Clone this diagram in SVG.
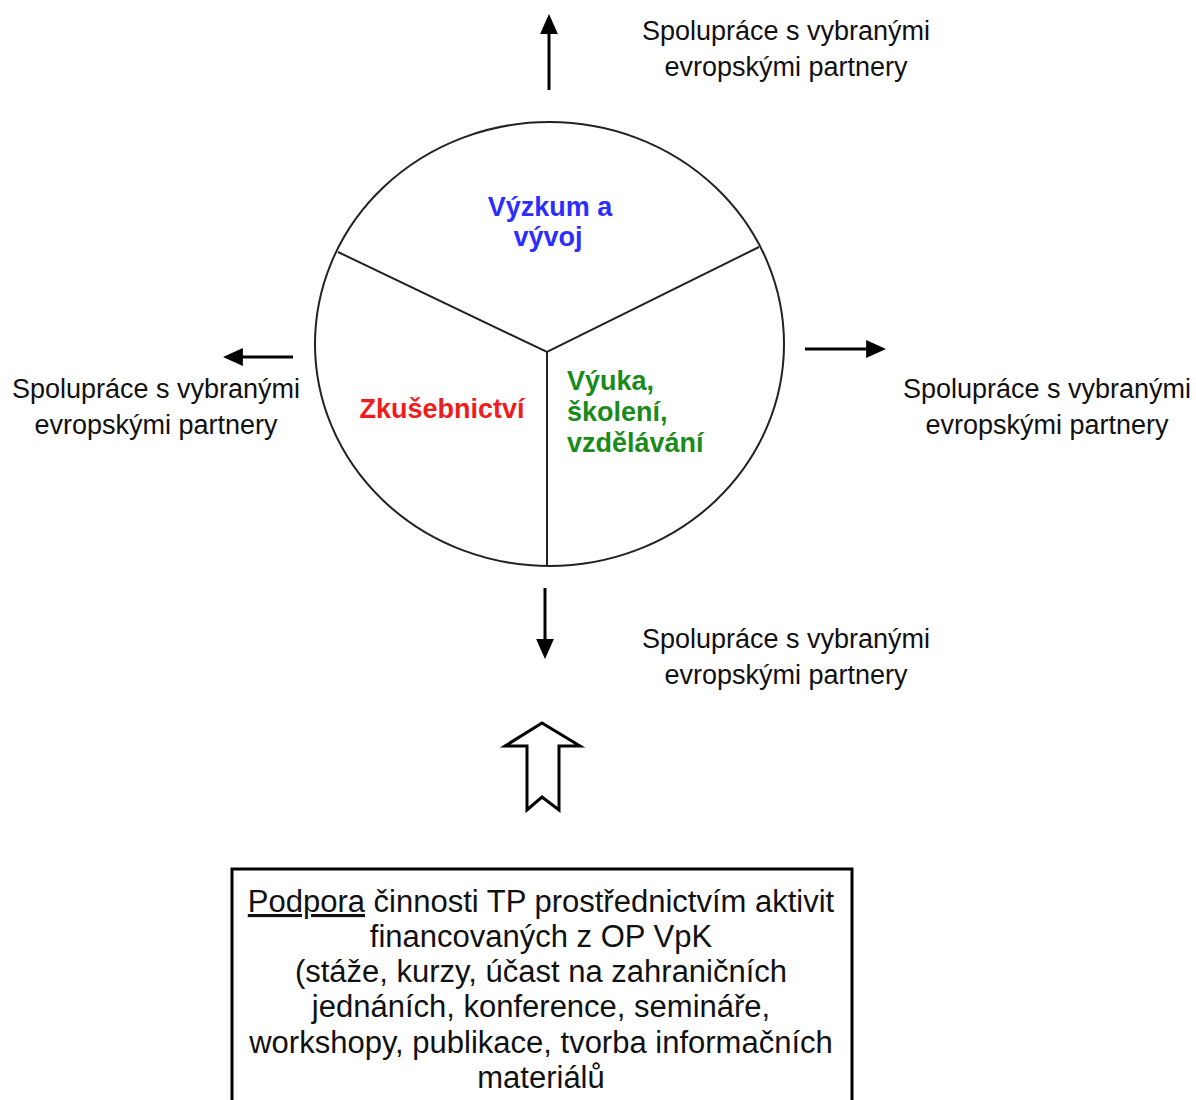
<svg xmlns="http://www.w3.org/2000/svg" width="1196" height="1100" viewBox="0 0 1196 1100">
  <style>
    .lbl { font-family: "Liberation Sans", Arial, sans-serif; font-size: 27px; fill: #111; text-anchor: middle; }
    .seg { font-family: "Liberation Sans", Arial, sans-serif; font-size: 27px; font-weight: bold; }
    .box { font-family: "Liberation Sans", Arial, sans-serif; font-size: 31px; fill: #111; text-anchor: middle; }
    .arr { stroke: #000; stroke-width: 3; fill: none; marker-end: url(#head); }
  </style>
  <defs>
    <marker id="head" markerUnits="userSpaceOnUse" markerWidth="20" markerHeight="18" viewBox="0 0 18 16" refX="8" refY="8" orient="auto">
      <path d="M0,0 L18,8 L0,16 z" fill="#000"/>
    </marker>
  </defs>
  <rect width="1196" height="1100" fill="#fff"/>

  <!-- central circle split into three sectors -->
  <g id="circle">
    <ellipse cx="549.5" cy="344" rx="234.5" ry="222" fill="#fff" stroke="#222" stroke-width="2"/>
    <path d="M338,252 L547,352 L759,247 M547,352 L547,566" fill="none" stroke="#222" stroke-width="2"/>
  </g>

  <g id="vyzkum">
    <text class="seg" fill="#2d2dff" text-anchor="middle" x="550" y="216">Výzkum a</text>
    <text class="seg" fill="#2d2dff" text-anchor="middle" x="548" y="246">vývoj</text>
  </g>
  <g id="zkusebnictvi">
    <text class="seg" fill="#f01c1c" text-anchor="middle" x="442" y="418">Zkušebnictví</text>
  </g>
  <g id="vyuka">
    <text class="seg" fill="#1a8a1a" x="567" y="390">Výuka,</text>
    <text class="seg" fill="#1a8a1a" x="567" y="421">školení,</text>
    <text class="seg" fill="#1a8a1a" x="567" y="452">vzdělávání</text>
  </g>

  <!-- cooperation labels -->
  <g id="partneri-top">
    <text class="lbl" x="786" y="40">Spolupráce s vybranými</text>
    <text class="lbl" x="786" y="76">evropskými partnery</text>
  </g>
  <g id="partneri-left">
    <text class="lbl" x="156" y="398">Spolupráce s vybranými</text>
    <text class="lbl" x="156" y="434">evropskými partnery</text>
  </g>
  <g id="partneri-right">
    <text class="lbl" x="1047" y="398">Spolupráce s vybranými</text>
    <text class="lbl" x="1047" y="434">evropskými partnery</text>
  </g>
  <g id="partneri-bottom">
    <text class="lbl" x="786" y="648">Spolupráce s vybranými</text>
    <text class="lbl" x="786" y="684">evropskými partnery</text>
  </g>

  <!-- support box -->
  <g id="podpora">
    <rect x="232" y="869" width="620" height="260" fill="#fff" stroke="#000" stroke-width="3"/>
    <text class="box" x="541" y="912"><tspan text-decoration="underline">Podpora</tspan> činnosti TP prostřednictvím aktivit</text>
    <text class="box" x="541" y="947">financovaných z OP VpK</text>
    <text class="box" x="541" y="982">(stáže, kurzy, účast na zahraničních</text>
    <text class="box" x="541" y="1017">jednáních, konference, semináře,</text>
    <text class="box" x="541" y="1053">workshopy, publikace, tvorba informačních</text>
    <text class="box" x="541" y="1088">materiálů</text>
  </g>

  <!-- connectors -->
  <g id="connectors">
    <line class="arr" x1="549" y1="90" x2="549" y2="25"/>
    <line class="arr" x1="293" y1="357" x2="234" y2="357"/>
    <line class="arr" x1="805" y1="349" x2="875" y2="349"/>
    <line class="arr" x1="545" y1="588" x2="545" y2="648"/>
    <path d="M542,723 L580,746 L559,746 L559,810 L542,797 L527,810 L527,746 L505,746 Z" fill="#fff" stroke="#000" stroke-width="3" stroke-linejoin="miter"/>
  </g>
</svg>
